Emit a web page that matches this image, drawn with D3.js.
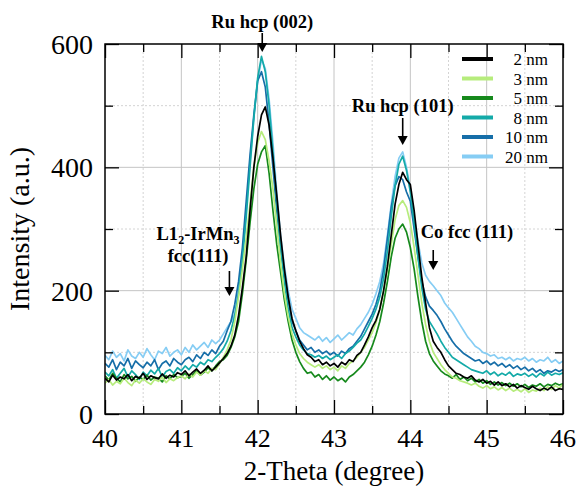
<!DOCTYPE html>
<html>
<head>
<meta charset="utf-8">
<script src="https://cdn.jsdelivr.net/npm/d3@7"></script>
<style>
    body { margin: 0; background: #fff; }
    svg { display: block; font-family: 'Liberation Serif', 'Times New Roman', serif; }
</style>
</head>
<body>
<div class="chart"></div>
<script>
// sampling grid of the scan (2-theta, 0.05 degree step)
var twoTheta = d3.range(0, 121).map(function (i) { return +(40 + i * 0.05).toFixed(2); });

// intensity, rows of ten points from 40.0, 40.5, 41.0 ...
var nm2 = [
    58, 52, 63, 55, 60, 57, 64, 54, 61, 58,
    66, 56, 62, 59, 57, 65, 58, 63, 60, 67,
    64, 70, 62, 68, 73, 66, 71, 78, 70, 76,
    83, 90, 98, 110, 128, 160, 205, 255, 330, 400,
    450, 485, 498, 468, 415, 355, 290, 235, 190, 155,
    135, 118, 106, 96, 92, 85, 88, 80, 84, 78,
    82, 76, 84, 80, 88, 85, 95, 100, 112, 125,
    140, 152, 170, 200, 240, 290, 340, 372, 392, 380,
    372, 330, 275, 222, 180, 140, 118, 108, 100, 88,
    78, 72, 66, 64, 60, 58, 62, 55, 52, 56,
    50, 53, 47, 52, 46, 49, 44, 48, 42, 46,
    43, 40, 45, 41, 38, 42, 39, 44, 38, 41,
    40
];
var nm3 = [
    50, 56, 47, 53, 49, 58, 51, 46, 55, 50,
    57, 52, 48, 56, 53, 60, 51, 57, 54, 59,
    62, 57, 65, 60, 68, 63, 70, 66, 74, 72,
    82, 92, 104, 120, 150, 190, 235, 285, 340, 400,
    440, 458, 445, 410, 365, 305, 245, 195, 158, 130,
    112, 98, 90, 84, 80, 76, 80, 74, 78, 72,
    76, 70, 78, 74, 82, 86, 92, 100, 108, 120,
    132, 148, 170, 200, 235, 275, 315, 338, 346, 335,
    310, 270, 225, 180, 145, 118, 100, 90, 80, 72,
    66, 60, 58, 54, 52, 50, 47, 50, 45, 42,
    46, 41, 44, 39, 43, 38, 42, 37, 40, 36,
    41, 35, 39, 37, 42, 38, 44, 40, 46, 42,
    48
];
var nm5 = [
    62, 55, 66, 58, 52, 64, 57, 61, 53, 60,
    56, 63, 55, 60, 58, 52, 62, 57, 64, 59,
    61, 66, 58, 64, 70, 63, 68, 75, 70, 78,
    85, 88, 95, 108, 125, 150, 195, 250, 310, 365,
    405, 425, 435, 390, 330, 275, 230, 185, 150, 120,
    100, 85, 74, 66, 68, 60, 64, 56, 62, 55,
    60, 54, 58, 52, 60, 64, 70, 76, 84, 96,
    110, 128, 150, 180, 215, 255, 285, 300, 308, 295,
    270, 235, 190, 150, 118, 98, 86, 78, 70, 65,
    62, 58, 64, 56, 60, 54, 58, 52, 56, 50,
    54, 48, 52, 47, 51, 46, 50, 45, 49, 44,
    48, 43, 47, 45, 49, 44, 48, 46, 50, 47,
    49
];
var nm8 = [
    68, 62, 72, 58, 66, 74, 60, 70, 64, 56,
    68, 62, 71, 65, 74, 60, 69, 72, 66, 75,
    70, 78, 72, 80, 76, 84, 80, 88, 85, 92,
    98, 106, 118, 135, 160, 195, 250, 320, 400, 480,
    545, 580, 555, 500, 425, 345, 270, 215, 170, 140,
    125, 112, 104, 98, 96, 92, 95, 90, 94, 88,
    92, 96, 90, 98, 102, 108, 115, 120, 130, 142,
    155, 170, 190, 220, 265, 320, 370, 405, 418, 395,
    360, 310, 255, 205, 170, 150, 140, 130, 118, 108,
    100, 92, 88, 84, 80, 76, 72, 70, 68, 66,
    70, 64, 68, 62, 66, 63, 68, 61, 65, 63,
    66, 61, 65, 60, 66, 62, 68, 63, 66, 64,
    67
];
var nm10 = [
    82, 76, 88, 72, 84, 78, 90, 74, 86, 80,
    75, 84, 78, 88, 72, 82, 86, 78, 90, 84,
    80, 88, 92, 85, 96, 90, 100, 95, 104, 98,
    110, 118, 135, 150, 178, 215, 270, 345, 420, 485,
    540, 555, 530, 470, 400, 330, 270, 225, 185, 150,
    135, 120, 112, 104, 108, 100, 104, 98, 102, 96,
    100, 94, 102, 98, 106, 110, 118, 126, 138, 150,
    162, 178, 200, 235, 285, 335, 370, 385, 380, 360,
    345, 300, 255, 215, 190, 175, 168, 160, 150, 138,
    128, 118, 110, 104, 98, 94, 90, 86, 88, 82,
    86, 80, 84, 78, 82, 76, 80, 74, 78, 72,
    76, 70, 74, 68, 72, 66, 70, 68, 72, 69,
    72
];
var nm20 = [
    95, 88, 102, 92, 98, 86, 104, 94, 90, 100,
    92, 106, 96, 88, 102, 98, 108, 94, 100, 104,
    96, 108, 100, 112, 104, 110, 116, 108, 120, 114,
    120, 130, 140, 150, 162, 200, 255, 330, 410, 480,
    540, 575, 560, 510, 440, 360, 290, 240, 200, 170,
    155, 140, 132, 128, 124, 120, 126, 118, 124, 116,
    122, 128, 120, 126, 132, 128, 138, 145, 155, 165,
    178, 195, 215, 245, 290, 340, 385, 415, 425, 400,
    365, 320, 280, 245, 225, 215, 208, 200, 192, 180,
    172, 165, 155, 145, 135, 125, 118, 110, 106, 100,
    98, 94, 96, 90, 92, 88, 92, 86, 90, 88,
    92, 86, 90, 84, 88, 86, 92, 84, 88, 82,
    86
];

var seriesNames = ['2 nm', '3 nm', '5 nm', '8 nm', '10 nm', '20 nm'];
var seriesValues = [nm2, nm3, nm5, nm8, nm10, nm20];
var seriesColors = ['#000000', '#b6ec7c', '#16891c', '#14aaa8', '#166ea8', '#86cdf4'];

var xTicks = [40, 41, 42, 43, 44, 45, 46];
var yTicks = [0, 200, 400, 600];

// peak labels: [2-theta at arrow, text lines]
var peakNotes = [
    { at: 42.06, lines: ['Ru hcp (002)'] },
    { at: 43.9, lines: ['Ru hcp (101)'] },
    { at: 41.63, lines: ['L1_2-IrMn_3', 'fcc(111)'] },
    { at: 44.3, lines: ['Co fcc (111)'] }
];

var margin = { top: 44, right: 16, bottom: 81, left: 105 },
    svgWidth = 579,
    svgHeight = 495,
    width = svgWidth - margin.left - margin.right,
    height = svgHeight - margin.top - margin.bottom;

var x = d3.scaleLinear().domain([40, 46]).range([0, width]);
var y = d3.scaleLinear().domain([0, 600]).range([height, 0]);

var svg = d3.select('.chart').append('svg')
    .attr('width', svgWidth)
    .attr('height', svgHeight)
    .append('g')
    .attr('transform', `translate(${margin.left},${margin.top})`);

// grid: solid at major ticks, dotted at minor
var xMinor = d3.range(40.5, 46, 1);
var yMinor = [100, 300, 500];
svg.append('g').selectAll('line')
    .data(xTicks.slice(1, -1))
    .enter().append('line')
    .attr('x1', function (d) { return x(d); })
    .attr('x2', function (d) { return x(d); })
    .attr('y1', 0).attr('y2', height)
    .attr('stroke', '#c4c4c4').attr('stroke-width', 1);
svg.append('g').selectAll('line')
    .data(yTicks.slice(1, -1))
    .enter().append('line')
    .attr('y1', function (d) { return y(d); })
    .attr('y2', function (d) { return y(d); })
    .attr('x1', 0).attr('x2', width)
    .attr('stroke', '#c4c4c4').attr('stroke-width', 1);
svg.append('g').selectAll('line')
    .data(xMinor)
    .enter().append('line')
    .attr('x1', function (d) { return x(d); })
    .attr('x2', function (d) { return x(d); })
    .attr('y1', 0).attr('y2', height)
    .attr('stroke', '#d4d4d4').attr('stroke-dasharray', '2,2');
svg.append('g').selectAll('line')
    .data(yMinor)
    .enter().append('line')
    .attr('y1', function (d) { return y(d); })
    .attr('y2', function (d) { return y(d); })
    .attr('x1', 0).attr('x2', width)
    .attr('stroke', '#d4d4d4').attr('stroke-dasharray', '2,2');

// data lines, black drawn last so it sits on top
svg.append('clipPath').attr('id', 'plot-clip')
    .append('rect').attr('width', width).attr('height', height);

var valueline = d3.line()
    .x(function (d, i) { return x(twoTheta[i]); })
    .y(function (d) { return y(d); });

svg.append('g').attr('clip-path', 'url(#plot-clip)')
    .selectAll('path')
    .data(d3.range(seriesValues.length).reverse())
    .enter().append('path')
    .attr('fill', 'none')
    .attr('stroke', function (k) { return seriesColors[k]; })
    .attr('stroke-width', 1.7)
    .attr('stroke-linejoin', 'round')
    .attr('d', function (k) { return valueline(seriesValues[k]); });

// axes, ticks pointing inward on all four sides
function styleAxis(g) {
    g.select('.domain').remove();
    g.selectAll('.tick line').attr('stroke', '#000').attr('stroke-width', 1.3);
}
var allX = d3.range(40, 46.01, 0.5);
var allY = d3.range(0, 601, 100);
function tickLen(v, step) { return Math.abs(v / step - Math.round(v / step)) < 1e-6 ? 14 : 8; }

svg.append('g')
    .attr('transform', 'translate(0,' + height + ')')
    .call(d3.axisBottom(x).tickValues(allX).tickSize(0).tickPadding(0).tickFormat(''))
    .call(styleAxis)
    .selectAll('.tick line').attr('y2', function (d) { return -tickLen(d, 1); });
svg.append('g')
    .call(d3.axisTop(x).tickValues(allX).tickSize(0).tickFormat(''))
    .call(styleAxis)
    .selectAll('.tick line').attr('y2', function (d) { return tickLen(d, 1); });
svg.append('g')
    .call(d3.axisLeft(y).tickValues(allY).tickSize(0).tickFormat(''))
    .call(styleAxis)
    .selectAll('.tick line').attr('x2', function (d) { return tickLen(d, 200); });
svg.append('g')
    .attr('transform', 'translate(' + width + ',0)')
    .call(d3.axisRight(y).tickValues(allY).tickSize(0).tickFormat(''))
    .call(styleAxis)
    .selectAll('.tick line').attr('x2', function (d) { return -tickLen(d, 200); });

svg.append('rect')
    .attr('width', width).attr('height', height)
    .attr('fill', 'none').attr('stroke', '#000').attr('stroke-width', 1.5);

// tick labels
svg.append('g').selectAll('text')
    .data(xTicks)
    .enter().append('text')
    .attr('x', function (d) { return x(d); })
    .attr('y', height + 33)
    .attr('text-anchor', 'middle')
    .attr('font-size', 26)
    .text(function (d) { return d; });
svg.append('g').selectAll('text')
    .data(yTicks)
    .enter().append('text')
    .attr('x', -12)
    .attr('y', function (d) { return y(d) + 10; })
    .attr('text-anchor', 'end')
    .attr('font-size', 28)
    .text(function (d) { return d; });

// axis titles
svg.append('text')
    .attr('x', width / 2)
    .attr('y', height + 66)
    .attr('text-anchor', 'middle')
    .attr('font-size', 27)
    .text('2-Theta (degree)');
svg.append('text')
    .attr('transform', 'translate(-76,' + (height / 2) + ') rotate(-90)')
    .attr('text-anchor', 'middle')
    .attr('font-size', 28)
    .text('Intensity (a.u.)');

// legend
var legend = svg.append('g').selectAll('g')
    .data(seriesNames)
    .enter().append('g')
    .attr('transform', function (d, i) { return 'translate(0,' + (15 + i * 19.5) + ')'; });
legend.append('line')
    .attr('x1', 357).attr('x2', 388)
    .attr('stroke', function (d, i) { return seriesColors[i]; })
    .attr('stroke-width', 4);
legend.append('text')
    .attr('x', 443).attr('y', 6)
    .attr('text-anchor', 'end')
    .attr('font-size', 17)
    .text(function (d) { return d; });

// peak annotations with arrows
var notePlaces = [
    { tx: x(42.06), ty: -16, a1: -11, a2: 8 },
    { tx: x(43.9), ty: 68, a1: 74, a2: 101 },
    { tx: 93, ty: 196, a1: 227, a2: 252 },
    { tx: 362, ty: 194, a1: 206, a2: 226 }
];
peakNotes.forEach(function (n, k) {
    var p = notePlaces[k];
    var t = svg.append('text')
        .attr('text-anchor', 'middle')
        .attr('font-size', 18.5)
        .attr('font-weight', 'bold');
    n.lines.forEach(function (line, j) {
        var row = t.append('tspan').attr('x', p.tx).attr('y', p.ty + j * 22);
        line.split(/_(\d)/).forEach(function (part, m) {
            if (m % 2 === 1) {
                row.append('tspan').attr('font-size', 12).attr('dy', 4).text(part);
            } else if (part) {
                row.append('tspan').attr('dy', m > 0 ? -4 : 0).text(part);
            }
        });
    });
    var ax = x(n.at);
    svg.append('line')
        .attr('x1', ax).attr('x2', ax)
        .attr('y1', p.a1).attr('y2', p.a2 - 6)
        .attr('stroke', '#000').attr('stroke-width', 1.6);
    svg.append('path')
        .attr('d', 'M' + (ax - 5) + ',' + (p.a2 - 9) + 'L' + (ax + 5) + ',' + (p.a2 - 9) + 'L' + ax + ',' + p.a2 + 'Z')
        .attr('fill', '#000');
});
</script>
</body>
</html>
